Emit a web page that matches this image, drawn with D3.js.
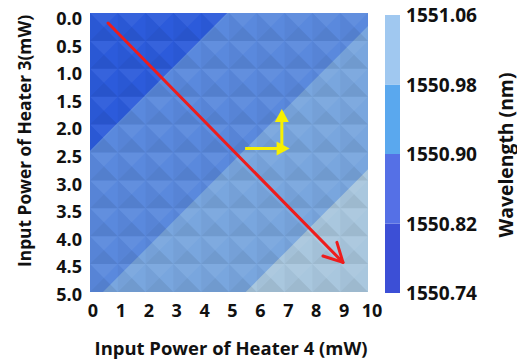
<!DOCTYPE html>
<html>
<head>
<meta charset="utf-8">
<script src="https://cdn.jsdelivr.net/npm/d3@7"></script>
<style>
  body { margin: 0; background: #fff; }
  text { font-family: "Open Sans", "DejaVu Sans", sans-serif; font-weight: 700; fill: #111; }
</style>
</head>
<body>
<div id="chart"></div>
<script>
// heater 4 power (columns) and heater 3 power (rows), mW
const heater4 = [0, 1, 2, 3, 4, 5, 6, 7, 8, 9, 10];
const heater3 = [0.0, 0.5, 1.0, 1.5, 2.0, 2.5, 3.0, 3.5, 4.0, 4.5, 5.0];
const xTicks = [0, 1, 2, 3, 4, 5, 6, 7, 8, 9, 10];
const yTicks = ['0.0', '0.5', '1.0', '1.5', '2.0', '2.5', '3.0', '3.5', '4.0', '4.5', '5.0'];

// wavelength (nm), one row per heater 3 step
const wavelength = [
  [1550.745, 1550.760, 1550.776, 1550.791, 1550.806, 1550.821, 1550.836, 1550.850, 1550.864, 1550.879, 1550.893],
  [1550.760, 1550.776, 1550.791, 1550.806, 1550.821, 1550.836, 1550.850, 1550.864, 1550.879, 1550.893, 1550.908],
  [1550.776, 1550.791, 1550.806, 1550.821, 1550.836, 1550.850, 1550.864, 1550.879, 1550.893, 1550.908, 1550.924],
  [1550.791, 1550.806, 1550.821, 1550.836, 1550.850, 1550.864, 1550.879, 1550.893, 1550.908, 1550.924, 1550.939],
  [1550.806, 1550.821, 1550.836, 1550.850, 1550.864, 1550.879, 1550.893, 1550.908, 1550.924, 1550.939, 1550.955],
  [1550.821, 1550.836, 1550.850, 1550.864, 1550.879, 1550.893, 1550.908, 1550.924, 1550.939, 1550.955, 1550.971],
  [1550.836, 1550.850, 1550.864, 1550.879, 1550.893, 1550.908, 1550.924, 1550.939, 1550.955, 1550.971, 1550.986],
  [1550.850, 1550.864, 1550.879, 1550.893, 1550.908, 1550.924, 1550.939, 1550.955, 1550.971, 1550.986, 1551.002],
  [1550.864, 1550.879, 1550.893, 1550.908, 1550.924, 1550.939, 1550.955, 1550.971, 1550.986, 1551.002, 1551.017],
  [1550.879, 1550.893, 1550.908, 1550.924, 1550.939, 1550.955, 1550.971, 1550.986, 1551.002, 1551.017, 1551.033],
  [1550.893, 1550.908, 1550.924, 1550.939, 1550.955, 1550.971, 1550.986, 1551.002, 1551.017, 1551.033, 1551.049]
];

// colour levels
const levels = [1550.74, 1550.82, 1550.90, 1550.98, 1551.06];
const levelLabels = ['1550.74', '1550.82', '1550.90', '1550.98', '1551.06'];
const mapColors = ['#2c5bdb', '#5a89dd', '#79a6de', '#a9c7de'];
const barColors = ['#3c4fd6', '#5570e6', '#5aa8ee', '#a0c8f0'];

// annotation arrows, in data units [heater4, heater3]
const redArrow = [[0.65, 0.18], [9.1, 4.47]];
const yellowOrigin = [5.58, 2.43];
const yellowRight = [7.18, 2.43];
const yellowUp = [6.9, 1.72];

const W = 517, H = 361;
const plot = { left: 90, right: 368, top: 13, bottom: 292 };

const svg = d3.select('#chart').append('svg')
  .attr('width', W)
  .attr('height', H);

const x = d3.scaleLinear().domain([0, 10]).range([plot.left, plot.right]);
const y = d3.scaleLinear().domain([0, 5]).range([plot.top, plot.bottom]);
// tick labels sit a little off the map edges in the original
const xLab = d3.scaleLinear().domain([0, 10]).range([93, 372]);
const yLab = d3.scaleLinear().domain([0, 5]).range([18, 294]);

// scale a text's font so it spans the given width
function fit(sel, width) {
  const w = sel.node().getComputedTextLength();
  sel.style('font-size', (16 * width / w).toFixed(2) + 'px');
  return sel;
}

svg.append('clipPath').attr('id', 'clip')
  .append('rect')
  .attr('x', plot.left).attr('y', plot.top)
  .attr('width', plot.right - plot.left).attr('height', plot.bottom - plot.top);

const map = svg.append('g').attr('clip-path', 'url(#clip)');

// base band
map.append('rect')
  .attr('x', plot.left).attr('y', plot.top)
  .attr('width', plot.right - plot.left).attr('height', plot.bottom - plot.top)
  .attr('fill', mapColors[0]);

// filled contours
const nx = heater4.length, ny = heater3.length;
const flat = wavelength.flat();
const contours = d3.contours().size([nx, ny]).thresholds(levels.slice(1, 4))(flat);

const dx = heater4[1] - heater4[0], dy = heater3[1] - heater3[0];
const gridProj = d3.geoTransform({
  point: function(px, py) {
    this.stream.point(x(heater4[0] + (px - 0.5) * dx), y(heater3[0] + (py - 0.5) * dy));
  }
});
const path = d3.geoPath(gridProj);

map.selectAll('path.band')
  .data(contours)
  .enter()
  .append('path')
  .attr('class', 'band')
  .attr('d', path)
  .attr('fill', (d, i) => mapColors[i + 1]);

// faceted look of the triangulated surface
const shades = [
  { side: 'top', fill: '#ffffff', op: 0.05 },
  { side: 'right', fill: '#ffffff', op: 0.0 },
  { side: 'bottom', fill: '#000000', op: 0.07 },
  { side: 'left', fill: '#000000', op: 0.03 }
];
const facets = [];
for (let j = 0; j < ny - 1; j++) {
  for (let i = 0; i < nx - 1; i++) {
    const x0 = x(heater4[i]), x1 = x(heater4[i + 1]);
    const y0 = y(heater3[j]), y1 = y(heater3[j + 1]);
    const cx = (x0 + x1) / 2, cy = (y0 + y1) / 2;
    const pts = {
      top: [[x0, y0], [x1, y0], [cx, cy]],
      right: [[x1, y0], [x1, y1], [cx, cy]],
      bottom: [[x1, y1], [x0, y1], [cx, cy]],
      left: [[x0, y1], [x0, y0], [cx, cy]]
    };
    shades.forEach(s => facets.push({ pts: pts[s.side], fill: s.fill, op: s.op }));
  }
}
map.selectAll('path.facet')
  .data(facets)
  .enter()
  .append('path')
  .attr('class', 'facet')
  .attr('d', d => 'M' + d.pts.join('L') + 'Z')
  .attr('fill', d => d.fill)
  .attr('fill-opacity', d => d.op);

// axis labels
svg.append('g').selectAll('text')
  .data(yTicks)
  .enter()
  .append('text')
  .attr('x', 82)
  .attr('y', (d, i) => yLab(heater3[i]))
  .attr('text-anchor', 'end')
  .attr('dominant-baseline', 'central')
  .style('font-size', '18px')
  .text(d => d);

svg.append('g').selectAll('text')
  .data(xTicks)
  .enter()
  .append('text')
  .attr('x', d => xLab(d))
  .attr('y', 310)
  .attr('text-anchor', 'middle')
  .attr('dominant-baseline', 'central')
  .style('font-size', '18px')
  .text(d => d);

fit(svg.append('text')
  .attr('x', 231)
  .attr('y', 347)
  .attr('text-anchor', 'middle')
  .attr('dominant-baseline', 'central')
  .style('font-size', '16px')
  .text('Input Power of Heater 4 (mW)'), 273);

fit(svg.append('text')
  .attr('transform', 'translate(24,141) rotate(-90)')
  .attr('text-anchor', 'middle')
  .attr('dominant-baseline', 'central')
  .style('font-size', '16px')
  .text('Input Power of Heater 3(mW)'), 252);

// colour bar
const c = d3.scaleLinear().domain([levels[0], levels[4]]).range([293, 15]);
const bar = svg.append('g');
bar.selectAll('rect')
  .data(d3.range(4))
  .enter()
  .append('rect')
  .attr('x', 385)
  .attr('width', 15)
  .attr('y', i => c(levels[i + 1]))
  .attr('height', i => c(levels[i]) - c(levels[i + 1]))
  .attr('fill', i => barColors[i]);

bar.selectAll('text')
  .data(levelLabels)
  .enter()
  .append('text')
  .attr('x', 406)
  .attr('y', (d, i) => c(levels[i]))
  .attr('dominant-baseline', 'central')
  .style('font-size', '16px')
  .text(d => d)
  .each(function() { fit(d3.select(this), 71); });

fit(svg.append('text')
  .attr('transform', 'translate(505,155) rotate(-90)')
  .attr('text-anchor', 'middle')
  .attr('dominant-baseline', 'central')
  .style('font-size', '16px')
  .text('Wavelength (nm)'), 165);

// red arrow with open head
const ax0 = x(redArrow[0][0]), ay0 = y(redArrow[0][1]);
const ax1 = x(redArrow[1][0]), ay1 = y(redArrow[1][1]);
const ang = Math.atan2(ay1 - ay0, ax1 - ax0);
const barb = 21, spread = Math.PI / 6.5;
const arrows = svg.append('g').attr('fill', 'none').attr('stroke-linecap', 'round');
arrows.append('line')
  .attr('x1', ax0).attr('y1', ay0).attr('x2', ax1).attr('y2', ay1)
  .attr('stroke', '#ee1c1c').attr('stroke-width', 3);
arrows.append('path')
  .attr('d', 'M' + [ax1 - barb * Math.cos(ang - spread), ay1 - barb * Math.sin(ang - spread)] +
    'L' + [ax1, ay1] +
    'L' + [ax1 - barb * Math.cos(ang + spread), ay1 - barb * Math.sin(ang + spread)])
  .attr('stroke', '#ee1c1c').attr('stroke-width', 3).attr('stroke-linejoin', 'round');

// yellow arrows
const yel = '#f7f000';
const ox = x(yellowOrigin[0]), oy = y(yellowOrigin[1]);
const rx = x(yellowRight[0]), ux = x(yellowUp[0]), uy = y(yellowUp[1]);
svg.append('line')
  .attr('x1', ox).attr('y1', oy).attr('x2', rx - 10).attr('y2', oy)
  .attr('stroke', yel).attr('stroke-width', 3);
svg.append('path')
  .attr('d', `M${rx},${oy}L${rx - 13},${oy - 7}L${rx - 13},${oy + 7}Z`)
  .attr('fill', yel);
svg.append('line')
  .attr('x1', ux).attr('y1', oy).attr('x2', ux).attr('y2', uy + 10)
  .attr('stroke', yel).attr('stroke-width', 3);
svg.append('path')
  .attr('d', `M${ux},${uy}L${ux - 7},${uy + 13}L${ux + 7},${uy + 13}Z`)
  .attr('fill', yel);
</script>
</body>
</html>
